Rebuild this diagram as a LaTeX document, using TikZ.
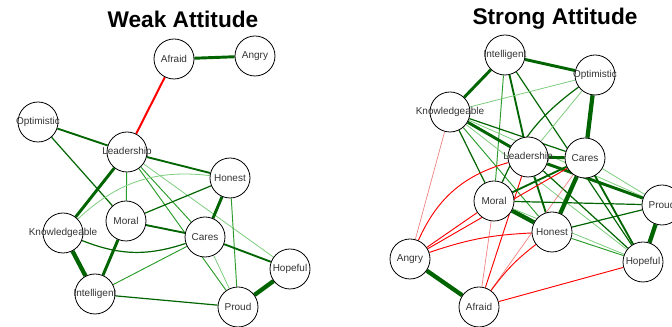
\documentclass[tikz,border=0pt]{standalone}
\usepackage{fontspec}
\setmainfont{Liberation Sans}
\usetikzlibrary{backgrounds}

\definecolor{dkgreen}{RGB}{0,100,0}
\definecolor{mdgreen}{RGB}{40,155,40}
\definecolor{ltgreen}{RGB}{125,205,125}
\definecolor{pinkred}{RGB}{240,125,125}

\tikzset{
  vert/.style={circle, draw, fill=white, minimum size=30pt, inner sep=0pt, line width=0.6pt},
  lbl/.style={font=\fontsize{7.5}{8}\selectfont, text=black!80},
  ttl/.style={font=\fontsize{17}{20}\selectfont\bfseries},
  glight/.style={ltgreen, line width=0.6pt},
  gthin/.style={mdgreen, line width=0.7pt},
  gdk/.style={dkgreen, line width=0.9pt},
  gmid/.style={dkgreen, line width=1.4pt},
  gbold/.style={dkgreen, line width=2.2pt},
  gheavy/.style={dkgreen, line width=3.2pt},
  rthin/.style={pinkred, line width=0.5pt},
  rmid/.style={red, line width=0.7pt},
  rbold/.style={red, line width=1.5pt},
}

\begin{document}
\begin{tikzpicture}[x=0.75pt, y=-0.75pt]
  \useasboundingbox (0,0) rectangle (672,327);

  \node[ttl] (wTitle) at (183,19) {Weak Attitude};
  \node[ttl] (sTitle) at (555,19) {Strong Attitude};

  % weak attitude
  \foreach \n/\x/\y in {Afraid/174/59, Angry/255/56, Optimistic/38/122,
      Leadership/127/152, Honest/230/178, Moral/126/221, Cares/205/237,
      Knowledgeable/63/233, Hopeful/290/269, Intelligent/95/294, Proud/238/307}
    \node[vert, label={[lbl]center:\n}] (w\n) at (\x,\y) {};

  % strong attitude
  \foreach \n/\x/\y in {Intelligent/505/55, Optimistic/595/75, Knowledgeable/450/112,
      Leadership/528/157, Cares/585/158, Moral/494/201, Proud/662/205,
      Honest/552/232, Hopeful/643/262, Angry/410/259, Afraid/479/307}
    \node[vert, label={[lbl]center:\n}] (s\n) at (\x,\y) {};

  \begin{scope}[on background layer]
    \foreach \a/\b/\s in {Afraid/Angry/gbold, Afraid/Leadership/rbold,
        Optimistic/Leadership/gmid, Optimistic/Moral/gdk,
        Leadership/Honest/gmid, Leadership/Knowledgeable/gbold,
        Leadership/Moral/gthin, Leadership/Cares/gthin,
        Leadership/Proud/gthin, Leadership/Hopeful/glight,
        Moral/Honest/gdk, Moral/Cares/gmid, Moral/Intelligent/gbold,
        Honest/Cares/gbold, Honest/Proud/gthin,
        Knowledgeable/Intelligent/gheavy, Intelligent/Cares/gthin,
        Intelligent/Proud/gdk, Cares/Hopeful/gmid, Cares/Proud/glight,
        Hopeful/Proud/gheavy}
      \draw[\s] (w\a) -- (w\b);
    \draw[glight] (wKnowledgeable) to[bend left=25] (wHonest);
    \draw[gdk] (wKnowledgeable) to[bend right=20] (wCares);

    \foreach \a/\b/\s in {Intelligent/Optimistic/gbold,
        Intelligent/Knowledgeable/gbold, Intelligent/Moral/gthin,
        Intelligent/Leadership/gmid, Intelligent/Hopeful/gdk,
        Optimistic/Knowledgeable/glight, Optimistic/Cares/gheavy,
        Optimistic/Leadership/glight,
        Knowledgeable/Leadership/gbold, Knowledgeable/Cares/gdk,
        Knowledgeable/Moral/gdk, Knowledgeable/Honest/gthin,
        Knowledgeable/Hopeful/glight, Knowledgeable/Proud/glight,
        Knowledgeable/Angry/rthin,
        Leadership/Cares/gbold, Leadership/Honest/gmid,
        Leadership/Proud/gbold, Leadership/Hopeful/gdk,
        Leadership/Afraid/rmid,
        Cares/Honest/gheavy, Cares/Moral/gmid, Cares/Hopeful/gmid,
        Cares/Proud/glight, Cares/Afraid/rthin, Cares/Angry/rmid,
        Moral/Honest/gheavy, Moral/Proud/gdk, Moral/Angry/rmid,
        Moral/Afraid/rthin, Moral/Hopeful/glight,
        Honest/Proud/gdk, Honest/Hopeful/gthin,
        Angry/Afraid/gheavy, Afraid/Hopeful/rmid, Proud/Hopeful/gheavy}
      \draw[\s] (s\a) -- (s\b);
    \draw[gdk] (sOptimistic) to[bend right=15] (sMoral);
    \draw[rmid] (sAngry) to[bend left=25] (sLeadership);
    \draw[rmid] (sAngry) to[bend left=8] (sHonest);
    \draw[rmid] (sAfraid) to[bend left=8] (sHonest);
  \end{scope}
\end{tikzpicture}
\end{document}
